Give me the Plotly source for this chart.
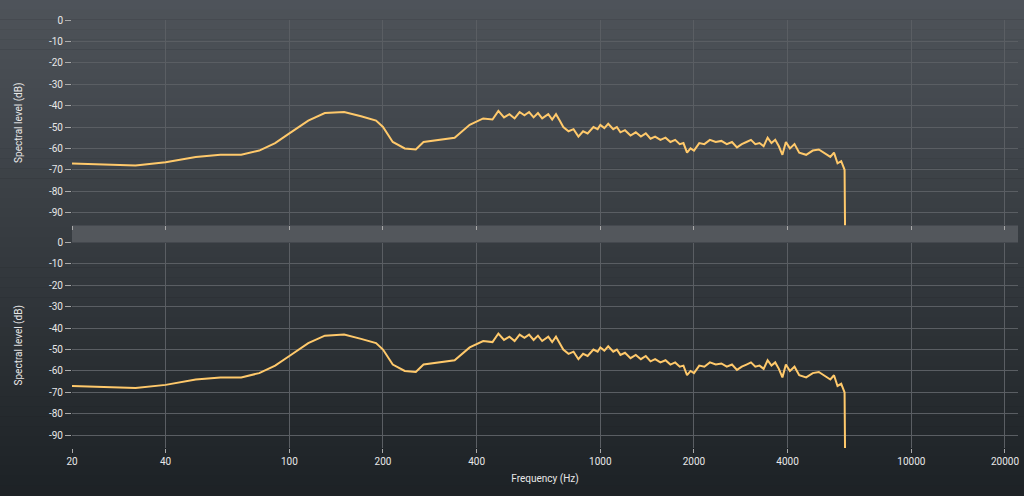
import plotly.graph_objects as go
from plotly.subplots import make_subplots

freq = [20, 25, 32, 40, 50, 60, 70, 80, 90, 100, 115, 130, 150, 170, 190, 200, 215, 235, 255, 270, 300, 340, 380, 420, 450,
        470, 490, 510, 530, 550, 570, 590, 610, 630, 650, 680, 700, 720, 740, 760, 790, 820, 850, 880, 910, 950, 980, 1000,
        1030, 1060, 1100, 1130, 1160, 1200, 1250, 1300, 1350, 1400, 1450, 1500, 1560, 1620, 1680, 1740, 1800, 1850, 1900,
        1950, 2000, 2080, 2160, 2250, 2350, 2450, 2550, 2650, 2750, 2850, 2950, 3050, 3150, 3250, 3350, 3450, 3550, 3650,
        3750, 3850, 3950, 4070, 4210, 4360, 4590, 4820, 5040, 5270, 5490, 5640, 5790, 5950, 6050, 6100, 6120]
level = [-67, -67.5, -68, -66.5, -64, -63, -63, -61, -57.5, -53, -47, -43.5, -43, -45, -47, -50, -57, -60, -60.5, -57, -56, -55,
         -49, -46, -46.5, -42.5, -45.5, -44, -46, -43, -44.5, -43, -45.5, -43.5, -46, -44, -46.5, -44, -47, -50, -52, -51,
         -54.5, -52, -53, -50, -51, -49, -50.5, -48.5, -51, -50, -52.5, -51.5, -54, -52.5, -54.5, -53, -55.5, -54.5, -56,
         -55, -57, -56, -58, -57.5, -62, -60, -61, -57.5, -58, -56, -57, -56.5, -58, -57, -59.5, -58, -57, -56, -58, -57.5,
         -59, -55, -57.5, -56, -59, -63, -57, -60, -58, -62, -63, -61, -60.5, -62.5, -64, -62, -67, -66, -69, -70, -96]

fig = make_subplots(rows=2, cols=1, shared_xaxes=True, vertical_spacing=0.04)
for r in (1, 2):
    fig.add_trace(go.Scatter(x=freq, y=level, mode="lines", line=dict(color="#ffc96b", width=2),
                             showlegend=False, hoverinfo="skip"), row=r, col=1)

tickv = [20, 40, 100, 200, 400, 1000, 2000, 4000, 10000, 20000]
yt = list(range(0, -100, -10))
font = dict(color="#e8e8e8", size=10, family="Roboto")
for r in (1, 2):
    fig.update_xaxes(type="log", range=[1.301, 4.343], tickvals=tickv, ticktext=[str(t) for t in tickv],
                     showgrid=True, gridcolor="#5a5e63", gridwidth=1, zeroline=False, automargin=False,
                     showticklabels=(r == 2), ticks="outside", tickcolor="#aaaaaa", ticklen=4,
                     tickfont=font, showline=False, row=r, col=1)
    fig.update_yaxes(range=[-96, 0], tickvals=yt, ticktext=[str(v) for v in yt], showgrid=True,
                     gridcolor="#5a5e63", gridwidth=1, zeroline=False, ticks="outside", tickcolor="#aaaaaa",
                     ticklen=6, tickfont=font, automargin=False,
                     title=dict(text="Spectral level (dB)", font=font, standoff=24),
                     row=r, col=1)
fig.update_xaxes(title=dict(text="Frequency (Hz)", font=font, standoff=8), row=2, col=1)

fig.update_layout(width=1024, height=496, margin=dict(l=72, r=6, t=20, b=48),
                  plot_bgcolor="#1d1f22", paper_bgcolor="#1f2327")

# vertical gradient background
N = 50
top, bot = (78, 83, 90), (30, 34, 38)
y0p, y1p = -48 / 428, 1 + 20 / 428
for i in range(N):
    t = i / (N - 1)
    c = tuple(int(top[k] + (bot[k] - top[k]) * t) for k in range(3))
    ya = y1p - (y1p - y0p) * i / N
    yb = y1p - (y1p - y0p) * (i + 1) / N
    fig.add_shape(type="rect", xref="paper", yref="paper", x0=-0.1, x1=1.01, y0=yb, y1=ya + 0.001,
                  fillcolor="rgb(%d,%d,%d)" % c, line_width=0, layer="below")
fig.add_shape(type="rect", xref="paper", yref="paper", x0=0, x1=1, y0=0.48, y1=0.52,
              fillcolor="#53575c", line_width=0, layer="below")
fig.write_html("out.html", config={"displayModeBar": False},
               post_script="document.body.style.margin='0';document.body.style.background='#1f2327';")
